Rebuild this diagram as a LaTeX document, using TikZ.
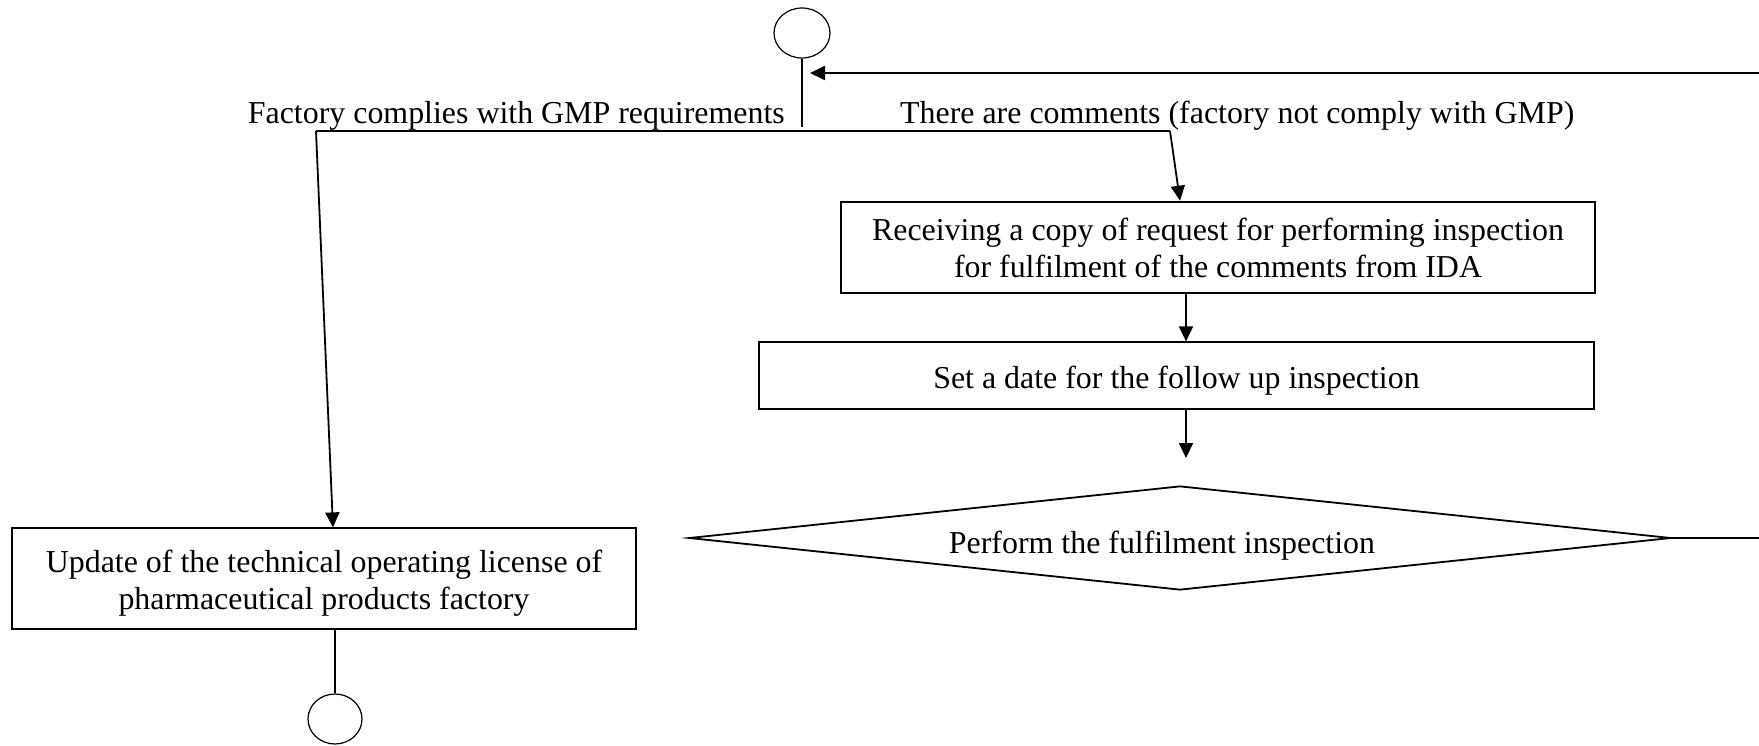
\documentclass[tikz,border=0pt]{standalone}
\usepackage{fontspec}
\setmainfont{Liberation Serif}
\usetikzlibrary{shapes.geometric,arrows.meta}
\newcommand{\lowr}[2]{\raisebox{-#1}[\height][\depth]{\begin{tabular}{@{}c@{}}#2\end{tabular}}}
\begin{document}
\begin{tikzpicture}[x=1pt,y=-1pt,
  every node/.style={font=\fontsize{31.9}{37}\selectfont},
  conn/.style={line width=1.8pt},
  arr/.style={conn,-{Triangle[length=15pt,width=14pt]}},
  thinbox/.style={draw,line width=1.2pt,rectangle,inner sep=0pt,align=center},
  thickbox/.style={draw,line width=2.6pt,rectangle,inner sep=0pt,align=center},
  term/.style={draw,ellipse,line width=1.2pt,inner sep=0pt}]
\useasboundingbox (0,0) rectangle (1759,745);
% terminals
\node[term,minimum width=56pt,minimum height=50pt] (c1) at (802,33) {};
\node[term,minimum width=54pt,minimum height=50pt] (c2) at (335,719) {};
% boxes
\node[thickbox,minimum width=754pt,minimum height=91pt] (b1) at (1218,247.5)
  {\lowr{4pt}{Receiving a copy of request for performing inspection\\for fulfilment of the comments from IDA}};
\node[thinbox,minimum width=835pt,minimum height=67pt] (b2) at (1176.5,375.5)
  {\lowr{5.5pt}{Set a date for the follow up inspection}};
\node[thinbox,minimum width=624pt,minimum height=101pt] (b3) at (324,578.5)
  {\lowr{5.5pt}{Update of the technical operating license of\\pharmaceutical products factory}};
\node[draw,diamond,line width=1.8pt,inner sep=0pt,minimum width=982pt,minimum height=104pt] (d) at (1180,538) {};
\node[anchor=base] (dt) at (1162,553) {Perform the fulfilment inspection};
% labels
\node[anchor=base east,inner sep=0pt] (l1) at (785,123) {Factory complies with GMP requirements};
\node[anchor=base west,inner sep=0pt] (l2) at (900,123) {There are comments (factory not comply with GMP)};
% coordinates
\coordinate (j) at (802,127);
\coordinate (hl) at (316,131);
\coordinate (hr) at (1170,131);
\coordinate (ax) at (1186,0);
\coordinate (a1) at (1180,0);
\coordinate (a3) at (333,0);
\coordinate (a4) at (335,0);
\coordinate (e3) at (1186,458);
\coordinate (r1) at (1759,538);
\coordinate (r2) at (1759,73);
\coordinate (t1) at (810,73);
% connectors
\draw[conn] (c1.south) -- (j);
\draw[conn] (hl) -- (hr);
\draw[arr] (hr) -- (b1.north -| a1);
\draw[arr] (hl) -- (b3.north -| a3);
\draw[arr] (b1.south -| ax) -- (b2.north -| ax);
\draw[arr] (b2.south -| ax) -- (e3);
\draw[conn] (d.east) -- (r1);
\draw[arr] (r2) -- (t1);
\draw[conn] (b3.south -| a4) -- (c2.north);
\end{tikzpicture}
\end{document}
